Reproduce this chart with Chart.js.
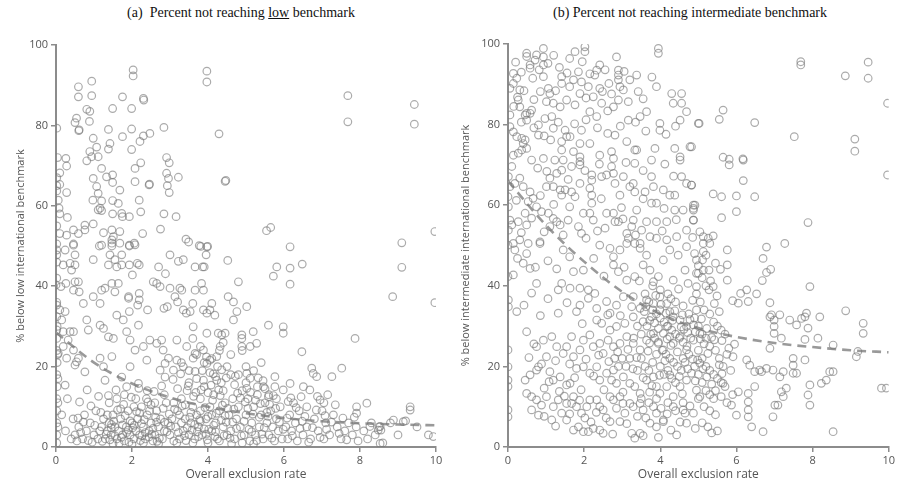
<!DOCTYPE html>
<html>
<head>
<meta charset="utf-8">
<script src="https://cdn.jsdelivr.net/npm/chart.js@4.4.1/dist/chart.umd.min.js"></script>
<style>
  body { margin: 0; background: #fff; width: 897px; height: 485px; position: relative; overflow: hidden; }
  canvas { position: absolute; top: 0; }
  .ttl { position: absolute; top: 5px; font-family: "Liberation Serif", "Times New Roman", serif; font-size: 14px; color: #111; white-space: nowrap; transform: translateX(-50%); }
</style>
</head>
<body>
<div class="ttl" style="left:241px">(a)&nbsp; Percent not reaching <u>low</u> benchmark</div>
<div class="ttl" style="left:690px">(b) Percent not reaching intermediate benchmark</div>
<canvas id="lowChart" width="448" height="485" style="left:0"></canvas>
<canvas id="intChart" width="449" height="485" style="left:448px"></canvas>
<script>
// axis ticks
const xTicks = [0, 2, 4, 6, 8, 10];
const yTicks = [0, 20, 40, 60, 80, 100];

// fitted (dashed) trend, read at each integer exclusion rate
const trendX = [0, 1, 2, 3, 4, 5, 6, 7, 8, 9, 10];
const lowTrend = [28.5, 21, 15.8, 12.3, 10, 8.4, 7.2, 6.4, 5.9, 5.6, 5.4];
const intTrend = [66, 55, 46, 38.5, 33, 29.5, 27.3, 25.8, 24.8, 24, 23.5];

// (a) % below low benchmark: [exclusion rate, percent]
const lowPoints = [
  [2.03,93.8],[2.03,92.3],[3.97,93.5],[3.97,90.8],[0.59,89.6],[0.59,87.1],[0.94,91],[0.94,87.4],[1.75,87.1],[2.3,86.7],
  [2.31,86.3],[0.81,84],[0.89,83.5],[0.88,81],[1.49,84.2],[1.99,84.2],[0.54,81.8],[0.5,80.7],[0.6,78.7],[0.61,78.9],
  [0.02,79.3],[1.38,79],[1.99,79.1],[2.84,79.5],[4.29,77.9],[1.75,77.2],[0.98,76.8],[2.21,76],[2.3,77.4],[2.47,78],
  [1.42,75.5],[1.38,74.1],[0.89,73.5],[1.07,74.6],[1.11,72.2],[0.81,71.2],[0.94,72.2],[1.99,74],[0.26,71.8],[0.28,69.9],
  [2.91,72],[2.98,70.7],[2.23,70.7],[1.2,69.3],[2.08,69.3],[0.1,68.2],[2.91,68.1],[2.96,66.8],[2.93,65],[2.98,63.3],
  [3.22,67.1],[0.98,66.8],[1.33,67.2],[1.49,67.7],[1.49,65.8],[2.08,66],[2.45,65.2],[2.46,65.4],[4.47,66.3],[4.45,66.1],
  [0.02,65],[0.1,65.3],[0.28,63.3],[0.02,63.7],[1.07,64.8],[1.11,63.1],[0.97,61.4],[1.68,63.9],[1.2,61.2],[1.16,59.4],
  [1.11,59],[1.2,58.8],[1.49,61.3],[1.64,60.6],[2.19,61.4],[0.06,61.4],[0.08,59.4],[0.1,58],[0.3,57.1],[1.49,58],
  [1.73,58.1],[1.75,57.3],[1.93,57.3],[2.23,58.5],[2.84,58],[3.16,57.3],[0.1,53.1],[0.28,52.7],[0.46,54],[0.59,53.1],
  [0.76,54],[0.76,55.2],[0.98,55.5],[1.25,53.3],[1.47,54],[1.51,52.3],[1.68,53.6],[1.47,51.5],[2.28,53.1],[2.75,54.2],
  [3.42,51.7],[3.77,50.1],[3.97,49.8],[0.02,50.5],[0.46,50.5],[1.14,50],[1.93,50],[2.08,50.3],[1.47,50],
  [7.68,87.4],[7.68,80.9],[9.43,85.2],[9.43,80.3],[5.54,53.8],[5.65,54.6],[6.16,49.8],[9.1,50.8],[9.97,53.6],[9.1,44.7],
  [8.86,37.4],[9.97,35.9],
  [0.02,49],[0.02,47.8],[0.24,49],[0.46,50.2],[0.5,47.8],[0.37,45.7],[0.19,45.3],[0.41,44],[0.5,45.3],[0.98,46.6],
  [1.2,50.2],[1.47,50.7],[1.68,50.7],[1.93,50.2],[2.06,50.7],[1.42,47.8],[1.55,46.6],[1.73,47.8],[1.38,45.3],[1.6,44.8],
  [1.73,45.3],[1.93,45.3],[2.14,45.7],[2.19,45.3],[2.01,42.8],[2.7,44.8],[2.88,43.1],[3.0,47.8],[3.22,46.2],[3.35,46.6],
  [3.49,51],[3.66,44.8],[3.86,44.8],[3.9,44.8],[3.95,47.8],[3.99,49.9],[3.81,49.9],[4.52,46.4],[5.81,44.8],[5.72,42.5],
  [6.16,44.5],[6.16,40.5],[6.48,45.5],[0.0,40.3],[0.13,39.9],[0.26,40.7],[0.46,39],[0.5,41.1],[0.59,41.1],[0.61,38.6],
  [0.72,35.7],[1.16,35.7],[0.98,37.4],[1.2,39],[1.47,40.7],[1.55,38.6],[1.64,40.7],[1.29,39.5],[1.91,37],[1.91,37.4],
  [2.19,38.2],[2.19,36.6],[2.41,34.1],[1.93,33.7],[2.15,35.3],[2.56,41.1],[2.65,40.7],[2.74,39.9],[3.0,39.5],[3.26,39.5],
  [3.31,39],[3.13,37.4],[2.84,34.5],[2.93,34.9],[3.2,36.1],[3.35,34.1],[3.43,33.3],[3.6,35.7],[3.83,40.7],[3.88,39],
  [3.66,39],[4.1,35.7],[4.05,34.1],[4.18,32.8],[3.88,34.1],[3.97,33.3],[3.53,33.7],[4.53,37.4],[4.67,36.1],[4.76,33.7],
  [4.67,31.6],[4.8,41.1],[5.02,34.9],[3.61,29.9],[3.97,28.3],[4.27,28.3],[4.36,27.9],[4.45,28.3],[4.32,25],[4.23,22.5],
  [4.89,27.9],[4.89,27],[5.11,25],[4.89,25],[5.28,25.8],[5.59,30.3],[5.19,28.7],[5.98,29.9],[5.98,28.3],[6.47,23.7],
  [7.87,27],
  [0.02,35.3],[0.02,32.4],[0.02,29.1],[0.1,34.1],[0.24,33.7],[0.15,31.6],[0.19,28.7],[0.37,28.7],[0.46,28.7],[0.32,26.6],
  [0.19,25],[0.46,24.1],[0.06,23.3],[0.28,22.1],[0.59,22.1],[0.54,21.2],[0.5,20.4],[0.81,31.6],[0.85,29.1],[1.16,30.3],
  [1.25,29.5],[1.38,27.4],[1.51,27],[1.47,22.5],[1.25,20],[1.29,16.6],[1.16,22.1],[0.76,18.7],[0.24,15.4],
  [1.6,32.8],[1.77,31.6],[1.86,28.7],[1.95,26.6],[2.08,24.1],[2.17,30.3],[1.95,20],[1.73,17.4],[1.86,15],[2.17,15.8],
  [2.39,21.6],[2.3,25],[2.47,26.6],[2.65,25.8],[2.78,26.6],[2.82,24.1],[2.96,22.1],[2.87,20.8],[2.87,17.4],[2.74,19.1],
  [3.09,19.1],[3.18,21.6],[3.35,20],[3.44,25],[3.66,23.3],[3.61,22.1],[3.88,24.1],[3.97,20.8],[4.05,21.6],[4.23,16.6],
  [4.14,18.2],[3.18,26.6],[3.3,21],[3.5,19],[3.7,23],[3.9,21],[4.1,22],[4.3,24],[4.5,20],[4.6,23],
  [4.8,18],[5.0,20],[4.9,24],[5.2,19],[5.4,21],[4.4,26],[3.6,27],[3.8,25],
  [5.02,18.3],[5.11,17.1],[5.46,15],[5.76,17.5],[5.76,15],[5.59,12.5],[5.98,14.2],[6.16,15.8],[6.11,11.3],[6.51,15],
  [6.68,14.2],[6.73,19.6],[6.86,17.5],[6.77,18.3],[6.95,11.7],[7.26,17.5],[7.52,19.6],[8.18,10.9],[7.91,10],[7.91,8.4],
  [9.32,10],[9.32,9.2],[8.88,6.7],[8.26,5.1],[8.53,5.1],[8.48,4.2],[9.14,6.3],[9.8,3],[9.93,2.6],[8.53,0.9],
  [0.5,3],[0.6,5],[0.7,2],[0.8,4],[0.9,6],[1.0,3],[1.1,2],[1.2,5],[1.25,7],[0.75,8],
  [1.05,9],[0.55,1.5],[0.95,1.2],[1.15,4],
  [1.3,2],[1.35,4],[1.4,6],[1.45,3],[1.5,8],[1.55,5],[1.6,2],[1.65,4],[1.7,7],[1.75,3],
  [1.8,1.5],[1.85,5],[1.9,9],[1.95,3],[2.0,6],[2.05,2],[2.1,4],[2.15,7],[2.2,3],[2.25,10],
  [2.3,5],[2.35,2],[2.4,8],[2.45,4],[2.5,6],[2.55,1.5],[2.6,3],[2.65,9],[2.7,5],[2.75,7],
  [2.8,2],[2.85,4],[2.9,11],[2.95,6],[1.4,11],[1.6,12],[1.8,13],[2.1,12],[2.4,14],[2.6,11],
  [1.5,0.8],[2.0,0.7],[2.3,1],[2.7,0.8],[1.7,9.5],[2.2,8.5],[2.5,10.5],[2.85,13],[1.35,8],[1.95,6.5],
  [2.05,10],[1.55,2.8],[1.75,5.5],[2.25,5.8],[2.45,2.5],[2.65,6.2],[1.45,4.8],[1.9,4.2],[2.35,3.6],[2.55,4.6],
  [3.0,3],[3.05,7],[3.1,1.5],[3.15,5],[3.2,9],[3.25,2],[3.3,12],[3.35,4],[3.4,7],[3.45,14],
  [3.5,3],[3.55,6],[3.6,10],[3.65,2],[3.7,8],[3.75,5],[3.8,12],[3.85,3],[3.9,15],[3.95,7],
  [4.0,1],[4.05,10],[4.1,4],[4.15,13],[4.2,6],[4.25,2],[4.3,9],[4.35,16],[4.4,5],[4.45,11],
  [4.5,3],[3.2,14.5],[3.5,16],[3.7,17],[4.0,13.5],[4.2,17.5],[4.4,14],[3.4,10.5],[3.6,1],[3.9,4.5],
  [4.1,8],[4.3,1.5],[3.1,11],[3.3,6],[3.8,9],[4.05,18.5],[4.25,20],[3.85,19],[3.45,4.8],[3.65,5.6],
  [3.75,2.6],[3.95,3.2],[4.15,5.4],[4.35,6.6],[3.55,8.6],[4.0,7.6],[3.25,8],[4.45,7.8],[3.8,6.4],[4.2,3.8],
  [4.55,8],[4.6,4],[4.65,12],[4.7,2],[4.75,7],[4.8,10],[4.85,5],[4.9,14],[4.95,3],[5.0,8],
  [5.05,12],[5.1,1.5],[5.15,6],[5.2,10],[5.25,3],[5.3,13],[5.35,5],[5.4,8],[5.45,2],[5.5,11],
  [5.55,6],[5.6,3],[5.65,9],[5.7,5],[5.75,1.5],[5.8,7],[5.85,4],[5.9,10],[5.95,2],[4.7,15.5],
  [5.0,16],[5.3,15],[5.5,14.5],[4.6,18],[4.9,1],[5.2,0.8],[5.45,16.5],[5.6,13],[5.8,12],[4.75,4.6],
  [4.95,6.4],[5.15,3.8],[5.35,7.4],[5.05,9.6],[4.65,6.2],[5.25,11.6],[5.55,8.6],[4.85,12.2],
  [6.05,5],[6.1,2],[6.15,8],[6.2,4],[6.3,6],[6.35,1.5],[6.4,9],[6.5,3],[6.6,5],[6.7,2],
  [6.8,7],[6.9,4],[7.0,9],[7.05,2],[7.1,6],[7.2,3],[7.3,8],[7.4,5],[7.5,2],[7.6,4],
  [7.7,6],[7.8,3],[7.9,5],[7.95,1.5],[6.25,11],[6.45,12.5],[7.05,11],[7.15,13],[6.6,10],[7.35,10.5],
  [8.1,4],[8.2,2],[8.3,6],[8.4,3],[8.5,5],[8.6,1],[8.8,6],[8.55,4.2],[9.0,3],[9.5,5],[9.2,6.5],
  [0.02,3],[0.02,6],[0.02,9],[0.02,12],[0.03,15],[0.02,18],[0.03,21],[0.02,24],[0.02,27],[0.03,30],
  [0.02,1],[0.05,5],[0.05,11],[0.05,17],[0.04,23],[0.02,36],[0.02,42],[0.02,46],[0.02,55],[0.02,67],
  [0.04,72],[0.15,8],[0.25,4],[0.3,12],[0.4,2],[0.45,7],
  [1.32,3.2],[1.42,1.8],[1.52,6.4],[1.62,9.2],[1.72,2.4],[1.82,7.8],[1.92,1.2],[2.02,4.8],[2.12,8.8],[2.22,1.6],
  [2.32,6.8],[2.42,11.2],[2.52,3.2],[2.62,7.4],[2.72,2.2],[2.82,9.6],[2.92,3.8],[2.98,8.2],[1.38,12.8],[1.58,14.2],
  [1.78,10.6],[1.98,12.4],[2.18,14.6],[2.38,12],[2.58,13.8],[2.78,15.2],[1.46,5.6],[1.66,0.9],[1.86,3.6],[2.06,5.4],
  [2.26,2.8],[2.46,9],[2.66,1.4],[2.86,6.2],
  [3.02,5.2],[3.12,9.4],[3.22,3.6],[3.32,10.2],[3.42,1.6],[3.52,7.4],[3.62,12.6],[3.72,3.8],[3.82,14.2],[3.92,9.8],
  [4.02,4.4],[4.12,11.6],[4.22,8.4],[4.32,12.8],[4.42,2.8],[4.52,9.6],[3.08,16.8],[3.28,18.2],[3.48,15.2],[3.68,13.6],
  [3.88,16.6],[4.08,15.4],[4.28,14.2],[4.48,17.2],[3.18,1],[3.38,2.8],[3.58,4.2],[3.78,6.8],[3.98,1.8],[4.18,2.6],
  [4.38,10.4],[4.48,6.2],[3.66,18.8],[3.96,22.4],[4.36,19.2],
  [4.58,2.2],[4.68,9.4],[4.78,13.4],[4.88,2.8],[4.98,11.2],[5.08,4.4],[5.18,8.2],[5.28,1.6],[5.38,10.8],[5.48,4.8],
  [5.58,7.6],[5.68,2.2],[5.78,9.6],[5.88,6.2],[5.98,4.4],[4.72,17.6],[5.02,14.6],[5.32,17.2],[5.62,10.6],[4.62,0.8],
  [5.12,13.6],[5.42,3.2],[5.72,12.8],
  [6.08,7.2],[6.22,2.8],[6.32,9.8],[6.42,4.6],[6.55,7.6],[6.65,1.2],[6.75,4.8],[6.85,9.2],[6.95,2.4],[7.12,4.4],
  [7.25,6.2],[7.45,3.4],[7.55,7.2],[7.65,1.8],[7.85,7.4],[6.18,12.2],[6.48,6.4],[6.88,12.6],[7.08,7.8],
  [0.65,3.6],[0.85,1.6],[1.02,5.4],[1.18,8.6],[0.72,6.2],[1.22,1.4],[0.92,10.2],[1.12,12.6],[0.62,11.2],[0.82,14.2],
  [0.58,7.2]
];

// (b) % below intermediate benchmark: [exclusion rate, percent]
const intPoints = [
  [7.69,95.6],[7.69,94.8],[9.46,95.5],[9.46,91.5],[8.86,92.1],[9.97,85.3],[9.11,76.4],[9.11,73.4],[9.97,67.5],[7.52,77],
  [5.65,83.6],[5.55,81.3],[5.02,80.3],[6.48,80.5],[4.82,74.5],[5.65,71.9],[5.81,71.4],[5.81,70],[6.17,71.5],[6.18,71.2],
  [6.18,66.1],[4.82,65],[5.39,62.8],[5.61,62.1],[6.0,62.3],[6.48,62.1],[6.0,58.4],[5.61,56.9],[4.87,60],[4.87,58.8],
  [4.87,56.3],[7.88,55.7],
  [5.04,53.4],[5.13,52.2],[5.26,51.8],[5.39,52.4],[5.3,50.5],[5.13,50.5],[5.13,48.5],[4.95,46.4],[5.11,46.4],[5.76,48.9],
  [5.0,43.1],[5.13,43.9],[5.28,43.9],[5.58,44.1],[5.76,45.2],[7.27,50.5],[6.79,49.6],[6.7,46.8],[6.9,44.1],[6.79,43.3],
  [6.68,41.3],[5.76,41.4],[7.93,39.8],
  [5.39,39.8],[5.28,39],[5.49,37.5],[5.9,36.3],[6.05,35.7],[6.11,38.1],[6.27,39],[6.31,36.1],[6.53,38],[6.88,35.8],
  [6.92,32.8],[6.88,32.3],[7.14,32.8],[6.99,31.5],[6.99,29.9],[6.99,28.2],[7.18,27],[7.4,31.5],[7.58,30.3],[7.71,31.9],
  [7.84,33.2],[7.8,32.3],[7.88,29.5],[8.19,32.3],[7.8,26.7],[8.14,27],[8.54,25.3],[8.87,33.8],[9.33,30.7],[9.33,28.2],
  [9.19,23.7],[9.15,22.4],[6.88,24.5],
  [5.91,22.4],[6.27,21.6],[6.35,20.3],[6.61,19.1],[6.79,19.5],[6.48,18.7],[6.66,18.7],[6.96,19.1],[7.14,17.4],[7.23,18.7],
  [7.49,22],[7.49,20.3],[7.49,18.3],[7.58,18.3],[7.8,21.6],[8.45,18.7],[8.54,18.7],[8.36,16.6],[8.23,15.8],[7.93,15.4],
  [7.88,12.9],[7.93,10.4],[7.31,14.6],[7.18,13.7],[7.23,12.5],[7.01,10.4],[7.09,10.4],[6.96,7.5],[6.48,15],[6.31,13.3],
  [6.31,11.2],[6.31,9.2],[6.31,7.5],[6.4,5],[6.7,3.8],[6.0,7.9],[5.87,10.4],[5.65,15.8],[6.05,13.7],[8.54,3.8],
  [9.81,14.6],[9.94,14.6],
  [0.49,97.7],[0.49,96.9],[0.58,94.8],[0.58,94],[0.93,98.9],[0.93,96.8],[0.93,94.8],[0.75,97.3],[0.71,96],[1.76,98.1],
  [2.02,99.3],[2.02,98.1],[2.41,94.8],[2.33,93.5],[2.28,92.3],[2.85,96.8],[2.9,93.5],[2.9,92.3],[2.9,91.1],[3.2,91.1],
  [2.94,89.4],[3.03,88.6],[3.95,98.9],[3.95,97.7],[3.38,92.3],[2.41,89],[2.11,89.4],[2.24,86.9],[1.72,91.1],[1.85,93.1],
  [1.41,91.9],[1.41,90.2],[1.06,89],[0.93,91.9],[1.1,87.7],[1.01,85.7],[1.19,85.3],[1.37,84.4],[1.54,86.1],[1.76,84.9],
  [1.89,87.7],[1.93,90.6],[2.15,83.2],[2.33,82],[2.46,85.3],[2.77,84.4],[2.9,86.1],[3.16,85.7],[3.16,81.1],[3.47,82],
  [3.64,83.2],[3.9,89.4],[4.3,87.7],[4.34,85.3],[4.56,87.7],[4.56,85.3],[4.69,83.2],[4.52,81.1],[5.0,80.3],[3.99,80.3],
  [3.99,78.6],[3.33,73.7],[3.38,73.7],[3.86,74.1],[4.38,74.1],[4.78,74.5],[3.77,71.2],[4.52,72],[4.52,71.2],[3.33,70.4],
  [2.81,77.4],[3.12,75.8],[2.72,73.3],[2.77,71.6],[2.41,72.4],[2.15,75.3],[1.89,75.3],[1.72,73.3],[1.41,73.7],[1.41,75.8],
  [1.54,77],[1.5,78.6],[1.63,77],[1.93,78.6],[1.19,79.1],[0.97,81.5],[1.15,82],[0.8,79.9],[0.8,77.4],[0.49,81.1],
  [0.31,84.4],[0.27,86.1],[0.14,90.2],[0.14,92.7],[0.05,89],[0.23,91.5],[0.31,88.6],[0.49,82.8],[0.45,82.4],[0.58,82.8],
  [0.62,83.6],[0.05,82.4],[0.05,79.5],[0.14,78.2],[0.23,77],[0.36,76.6],[0.45,76.2],[0.4,75.3],[0.36,73.7],[0.49,74.1],
  [0.27,72.9],[0.14,72.4],[0.93,71.6],[1.23,71.2],[1.45,71.2],[1.89,72],[1.89,70.8],[1.89,70],[1.67,69.6],[1.41,68.7],
  [1.28,67.9],[1.1,66.7],[1.01,64.6],[1.19,64.6],[1.37,63.8],[1.5,63.8],[1.41,62.5],[1.67,63.3],[1.76,62.1],[1.89,65.4],
  [2.2,67.5],[2.2,66.2],[2.15,64.2],[2.2,62.5],[2.2,60.5],[2.46,67.1],[2.59,67.5],[2.77,67.9],[2.72,69.6],[3.03,67.1],
  [2.81,65.4],[2.94,62.5],[3.2,64.6],[3.29,65.4],[3.33,63.3],[3.6,63.3],[3.77,67.1],[3.82,64.6],[4.08,63.8],[4.25,62.5],
  [4.38,62.5],[4.56,67.1],[4.69,65.4],[4.82,65],[4.91,60],[3.9,60.5],[3.77,60.5],[3.38,58.8],[3.29,56.3],[3.25,54.7],
  [3.51,53.8],[3.64,55.9],[3.9,55.9],[4.17,55.9],[4.38,58.8],[4.6,58.8],[4.87,59.2],[4.87,56.3],[4.69,53.8],[4.43,52.2],
  [4.17,51.4],[3.9,51.8],[3.73,52.2],[3.47,50.5],[3.12,53],[3.16,51.8],[2.9,55.9],[2.59,58],[2.77,58],[2.81,55.9],
  [2.55,54.3],[2.24,56.3],[1.98,58],[2.15,58],[1.85,54.7],[1.93,53],[1.58,56.3],[1.37,55.1],[1.28,55.9],[1.19,56.7],
  [1.06,58],[1.1,54.7],[0.88,58.4],[0.75,59.6],[0.53,60.9],[0.45,58],[0.49,55.1],[0.27,55.9],[0.1,55.1],[0.05,56.3],
  [0.01,53.8],[0.31,51.4],[0.53,50.5],[0.84,50.9],[0.14,50.5],[0.01,59.6],[0.0,62.1],[0.05,64.6],[0.01,67.1],[0.1,69.6],
  [0.18,65.4],[0.31,66.7],[0.58,63.3],[0.66,61.7],[0.4,64.6],
  [0,50.1],[0.18,48.9],[0.49,48],[0.4,45.6],[0.58,44.3],[0.84,50.5],[1.45,48.9],[1.72,43.5],[1.98,43.9],[2.11,39],
  [1.89,39.4],[2.41,50.1],[2.68,49.3],[2.77,47.2],[2.94,48.9],[2.77,45.2],[2.9,43.5],[3.12,50.5],[3.33,50.5],[3.47,49.3],
  [3.64,47.6],[3.55,45.2],[3.33,42.3],[3.12,41.4],[3.73,43.9],[3.82,41],[3.95,42.3],[4.08,46.4],[4.25,48.9],[4.47,47.6],
  [4.69,49.7],[4.65,43.9],[4.34,41.4],[4.73,40.6],[4.95,43.1],[4.95,39.8],[0,42.3],[0.14,42.7],[0.23,33.6],[0.75,40.6],
  [1.41,40.6],[1.32,39],[1.63,39.4],[1.89,35.2],[1.8,33.6],[2.11,36.9],[2.28,38.1],[2.33,34.4],[2.33,31.5],[2.59,36.1],
  [2.68,33.2],[2.85,35.2],[3.03,37.3],[3.29,37.3],[3.25,34.8],[3.47,34.4],[3.64,36.5],[3.82,35.6],[3.99,37.3],[4.17,35.6],
  [3.99,34],[3.77,32.3],[3.55,31.1],[3.29,32.3],[3.07,30.7],[2.85,29.9],[2.68,29],[2.46,30.7],[4.34,32.3],[4.52,31.5],
  [4.69,29.9],[4.87,30.3],[4.95,34],[4.17,29.9],
  [0.49,28.6],[0.75,24.9],[0.93,26.5],[1.15,27.4],[1.28,24.9],[1.01,22.4],[1.54,24.9],[1.67,27.4],[1.72,22.4],[1.89,24.1],
  [1.98,26.5],[2.15,27.8],[2.24,24.9],[2.41,25.7],[2.5,23.2],[2.63,26.5],[2.77,24.9],[2.94,25.7],[3.12,27.4],[3.29,25.7],
  [3.47,24.1],[3.64,26.5],[3.82,28.2],[3.95,25.7],[4.08,24.1],[4.25,27.4],[4.34,25.7],[4.52,27.4],[4.69,24.1],[4.87,26.5],
  [5.04,28.2],[0.45,16.6],[0.58,17.9],[0.75,19.1],[0.8,19.9],[1.1,18.7],[1.19,16.6],[1.37,17.4],[1.54,15.4],[1.63,15.8],
  [1.72,12.5],[1.8,19.5],[1.98,19.9],[2.15,18.3],[2.33,19.9],[2.41,16.6],[2.59,18.3],[2.77,19.1],[2.85,15.8],[3.03,17.4],
  [3.2,15.8],[3.33,15],[3.47,13.3],[3.64,16.6],[3.82,17.4],[3.9,15],[3.99,13.3],[4.17,15],[4.25,17.9],[4.34,12.5],
  [4.52,15],[4.69,16.6],[4.82,18.3],[4.95,14.1],[5.04,20.8],[0.49,13.3],[0.62,12.5],[0.75,11.7],[0.88,10.4],[1.01,12.5],
  [1.19,10],[1.32,11.7],[1.41,8.4],[1.54,10.8],[1.67,10.8],[1.8,10],[1.93,8.4],[2.07,10],[2.15,11.7],[2.33,11.7],
  [2.41,10],[2.5,9.2],[2.68,12.5],[2.77,11.7],[2.94,12.5],[3.07,8.4],[3.2,10.8],[3.29,10],[3.47,10.8],[3.55,9.2],
  [3.82,10],[3.9,8.4],[4.08,6.7],[4.34,10],[4.6,9.2],[4.69,5.9],[4.87,8.4],[5.04,12.5],[0.8,7.9],[1.15,6.7],
  [1.54,6.7],[1.85,5],[1.98,3.8],[2.11,3.8],[2.24,4.6],[2.41,4.2],[2.5,3.4],[2.68,6.3],[2.94,6.3],[3.25,3.4],
  [3.33,2.2],[3.47,3.4],[3.73,5.9],[3.9,5],[4.08,6.3],[4.43,3],[4.65,8.4],[0,24.1],[0,19.9],[0,16.6],
  [0,15],[0,9.2],[0,7.5],[0.01,36.5],[0.01,34.8],
  [4.85,52],[4.9,48],[5.0,45],[5.1,42],[5.2,40],[4.95,38],[5.05,36],[5.15,34],[5.3,33],[5.4,31],
  [5.5,30],[5.6,29],[5.7,28],[4.9,32],[5.0,30],[5.1,28],[5.2,27],[5.3,25],[5.45,24],[5.55,22],
  [5.0,24],[5.1,22],[5.2,20],[5.3,19],[5.4,18],[5.5,17],[5.6,16],[5.7,15],[4.9,20],[5.0,18],
  [5.1,16],[5.2,14],[5.3,13],[5.4,12],[5.0,12],[5.15,10],[5.3,9],[5.45,8],[5.1,6],[5.25,5],
  [5.35,3.5],[5.5,4],[5.45,14],[5.65,20],[5.75,23],[5.85,19],[5.75,11],[5.6,12.5],[5.8,24.5],[5.95,25.5],
  [5.9,13],
  [3.6,38],[3.7,36],[3.8,34],[3.9,33],[4.0,32],[4.1,31],[4.2,30],[4.3,29],[4.4,28],[4.5,27],
  [4.6,26],[3.65,30],[3.75,28],[3.85,27],[3.95,26],[4.05,24],[4.15,23],[4.25,22],[4.35,21],[4.45,20],
  [4.55,19],[4.65,21],[4.75,23],[3.5,22],[3.6,20],[3.7,19],[3.8,21],[3.9,23],[4.0,20],[4.1,18],
  [4.2,19],[4.3,17],[4.4,16],[4.5,17.5],[4.6,22],[4.7,25],[4.8,27],[4.75,33],[4.6,35],[4.4,36],
  [4.2,38],[4.0,39],[3.8,40],[3.5,28],[3.4,30],[3.3,27],[3.2,22],[3.1,20],[3.0,22],[2.9,20],
  [2.8,22],[3.4,19],[3.5,12],[3.7,11],[3.9,12],[4.2,11],[4.4,9],[4.6,11],
  [0.2,95.5],[0.35,93],[0.65,91.5],[0.82,93.6],[1.05,95.2],[1.2,97.2],[1.35,94.2],[1.55,92.8],[1.62,96.4],[1.95,95.6],
  [2.15,92.6],[2.55,93.6],[2.65,90.2],[2.72,87.6],[3.05,93.2],[3.42,88.2],[3.55,86.4],[3.78,91.8],[0.25,86.8],[0.42,88.4],
  [0.68,86.2],[0.85,88.2],[1.25,88.4],[1.62,89.4],[2.05,86.6],[2.48,88.2],[2.62,83.4],[3.35,80.6],[3.62,78.4],[0.15,84.5],
  [0.35,80.6],[0.68,79.2],[0.95,77.2],[1.12,76.2],[1.32,80.6],[1.75,80.2],[2.05,81.2],[2.35,79.2],[2.62,77.8],[2.95,79.6],
  [4.15,77.6],[4.4,79.6],[0.62,71.2],[0.78,69.2],[1.02,68.4],[1.58,66.4],[2.02,68.6],[2.4,70.2],[3.1,70.6],[3.55,68.6],
  [4.12,70.2],[4.35,67.2],[0.22,61.2],[0.85,62.4],[1.2,60.2],[1.62,59.6],[2.45,61.6],[2.98,59.4],[3.55,61.6],[4.1,59.2],
  [4.42,56.4],[0.62,56.8],[1.45,52.6],[2.05,51.8],[2.35,53.6],[3.02,56.6],[3.35,52.6],[4.05,53.6],[0.35,53.2],[0.95,53.4],
  [0.25,46.8],[0.72,44.6],[1.05,46.2],[1.28,44.2],[1.62,47.2],[2.25,46.8],[2.52,42.4],[3.05,44.6],[1.05,36.8],[0.62,38.2],
  [0.42,35.2],[1.55,35.8],[1.32,33.2],[0.85,32.6],[1.95,30.6],[2.62,32.8],[2.95,32.6],
  [0.55,22.2],[0.68,25.6],[0.88,20.6],[0.95,14.6],[1.08,16.2],[1.25,21.4],[1.35,13.8],[1.45,23.2],[1.62,20.6],[1.75,17.2],
  [1.92,14.2],[2.05,21.8],[2.25,17.6],[2.38,22.8],[2.52,14.2],[2.65,21.2],[2.72,16.6],[2.88,23.6],[3.02,13.6],[3.15,24.2],
  [3.28,19.4],[3.38,22.2],[3.55,17.2],[3.68,23.8],[3.78,15.2],[3.98,17.8],[4.12,21.4],[4.28,25.2],[4.45,23.6],[4.58,13.2],
  [4.72,19.4],[4.85,21.8],[4.92,16.4],[0.62,9.2],[0.95,7.6],[1.25,5.2],[1.48,12.6],[1.62,8.2],[1.72,4.2],[1.88,11.6],
  [2.02,7.2],[2.18,6.2],[2.32,8.6],[2.58,7.2],[2.85,9.6],[3.02,10.8],[3.12,5.8],[3.4,7.6],[3.62,7.2],[3.72,13.6],
  [4.02,9.6],[4.18,8.2],[4.28,4.2],[4.52,6.2],[4.78,10.2],[4.92,4.6],[3.55,2.8],[2.75,3.2],[3.95,2.4],
  [3.45,41.2],[3.58,33.6],[3.72,31.4],[3.88,37.6],[4.02,35.4],[4.15,33.2],[4.28,36.8],[4.38,33.8],[4.48,39.2],[4.58,32.8],
  [4.62,29.2],[4.78,31.6],[4.85,36.4],[4.92,28.6],[5.08,31.8],[5.22,29.4],[5.35,27.2],[5.42,35.6],[5.55,33.6],[5.62,26.4],
  [5.32,41.2],[5.45,45.6],[5.2,47.6],[3.72,25.8],[3.95,29.4],[4.18,26.8],[4.32,31.4],[4.55,29.8],[4.72,28.4],[4.08,28.2],
  [3.85,30.8],[4.25,33.6],[3.62,34.8],
  [5.55,20.4],[5.42,26.6],[5.25,23.2],[5.15,25.6],[5.05,26.8],[4.98,21.6],[5.12,19.4],[5.35,15.6],[5.22,17.4],[5.62,18.2]
];

const pointColor = "rgba(120,120,120,0.62)";
const axisColor = "#8c8c8c";
const textColor = "#555";

function toXY(pairs) {
  return pairs.map((p) => ({ x: p[0], y: p[1] }));
}

function makeChart(id, pts, trend, yTitle, pad, yWidth) {
  const ctx = document.getElementById(id).getContext("2d");
  return new Chart(ctx, {
    type: "scatter",
    data: {
      datasets: [
        {
          data: toXY(pts),
          pointStyle: "circle",
          pointRadius: 3.8,
          pointBorderWidth: 1.2,
          borderColor: pointColor,
          backgroundColor: "rgba(0,0,0,0)",
        },
        {
          type: "line",
          data: trendX.map((x, i) => ({ x: x, y: trend[i] })),
          borderColor: "#999",
          borderWidth: 2.6,
          borderDash: [9, 6],
          pointRadius: 0,
          tension: 0.4,
          cubicInterpolationMode: "monotone",
          fill: false,
        },
      ],
    },
    options: {
      responsive: false,
      devicePixelRatio: 1,
      animation: false,
      layout: { padding: pad },
      plugins: { legend: { display: false }, tooltip: { enabled: false } },
      scales: {
        x: {
          type: "linear",
          min: 0,
          max: 10,
          afterBuildTicks: (s) => { s.ticks = xTicks.map((v) => ({ value: v })); },
          afterFit: (s) => { s.height = 38; },
          grid: { drawOnChartArea: false, tickLength: 5, color: axisColor, lineWidth: 1.5 },
          border: { color: axisColor, width: 2 },
          ticks: { color: textColor, padding: 2, font: { family: "Open Sans", size: 11 } },
          title: {
            display: true,
            text: "Overall exclusion rate",
            color: textColor,
            font: { family: "Open Sans", size: 12 },
            padding: { top: 0, bottom: 3 },
          },
        },
        y: {
          type: "linear",
          min: 0,
          max: 100,
          afterBuildTicks: (s) => { s.ticks = yTicks.map((v) => ({ value: v })); },
          afterFit: (s) => { s.width = yWidth; },
          grid: { drawOnChartArea: false, tickLength: 5, color: axisColor, lineWidth: 1.5 },
          border: { color: axisColor, width: 2 },
          ticks: { color: textColor, padding: 3, font: { family: "Open Sans", size: 11 } },
          title: {
            display: true,
            text: yTitle,
            color: textColor,
            font: { family: "Open Sans", size: 11 },
            padding: { top: 0, bottom: 0 },
          },
        },
      },
    },
  });
}

makeChart("lowChart", lowPoints, lowTrend, "% below low international benchmark",
  { left: 14, right: 12, top: 45, bottom: 0 }, 42);
makeChart("intChart", intPoints, intTrend, "% below intermediate international benchmark",
  { left: 11, right: 8, top: 44, bottom: 0 }, 49);
</script>
</body>
</html>
